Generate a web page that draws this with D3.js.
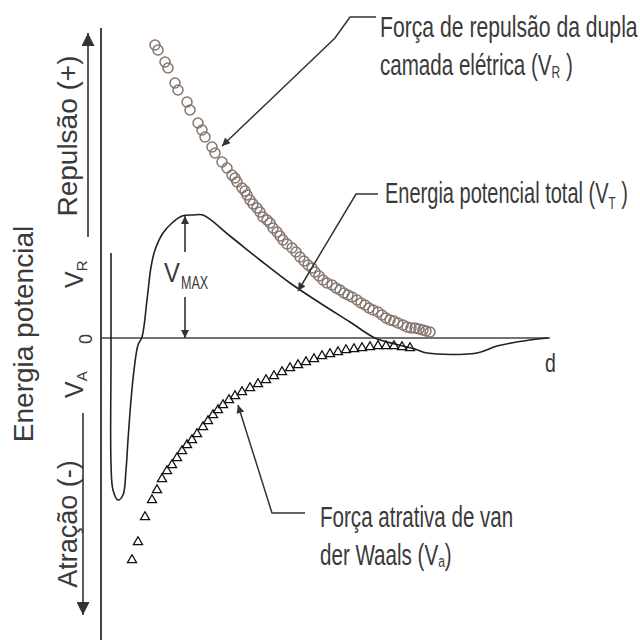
<!DOCTYPE html>
<html>
<head>
<meta charset="utf-8">
<script src="https://cdn.jsdelivr.net/npm/d3@7"></script>
<style>
  body { margin: 0; background: #fff; }
  svg text { font-family: "Liberation Sans", Arial, sans-serif; fill: #3a3a3a; }
</style>
</head>
<body>
<div id="chart"></div>
<script>
// d (distance) and V (energy), arbitrary units
const repulsao = [[5.4,29.3],[5.7,28.8],[6.4,27.6],[6.7,27.0],[7.4,25.5],[7.7,24.8],[8.6,23.6],[8.9,22.8],
  [9.7,21.5],[10.1,20.8],[10.4,20.1],[11.1,19.1],[11.4,18.5],[12.1,17.6],[12.6,17.0],[13.1,16.3],[13.4,16.0],
  [13.6,15.6],[14.1,15.0],[14.4,14.7],[14.6,14.3],[14.9,13.8],[15.2,13.4],[15.6,13.0],[15.9,12.6],[16.2,12.1],
  [16.6,11.8],[16.9,11.5],[17.2,11.0],[17.6,10.6],[17.9,10.2],[18.2,9.8],[18.6,9.4],[19.1,9.0],[19.5,8.6],
  [19.9,8.1],[20.3,7.7],[20.7,7.3],[21.1,7.0],[21.4,6.6],[21.8,6.2],[22.2,5.8],[22.6,5.5],[23.1,5.3],[23.5,5.0],
  [23.9,4.8],[24.3,4.5],[24.7,4.3],[25.1,4.1],[25.6,3.8],[26.0,3.5],[26.4,3.3],[26.8,3.0],[27.2,2.8],[27.7,2.6],
  [28.1,2.3],[28.5,2.0],[28.9,1.8],[29.3,1.7],[29.7,1.5],[30.2,1.3],[30.6,1.1],[31.0,1.0],[31.4,1.0],[31.8,0.9],
  [32.2,0.8],[32.5,0.7],[32.9,0.6]];

const atracao = [[3.1,-22.2],[3.7,-20.4],[4.4,-17.9],[5.1,-16.2],[5.6,-15.2],[6.1,-14.1],[6.6,-13.3],[7.1,-12.7],
  [7.6,-12.0],[8.1,-11.3],[8.6,-10.7],[9.1,-10.2],[9.6,-9.6],[10.2,-8.9],[10.7,-8.3],[11.2,-7.7],[11.7,-7.2],
  [12.2,-6.7],[12.8,-6.2],[13.4,-5.8],[14.1,-5.4],[14.9,-5.0],[15.7,-4.6],[16.5,-4.2],[17.3,-3.8],[18.1,-3.4],
  [18.9,-3.0],[19.7,-2.7],[20.5,-2.4],[21.3,-2.1],[22.1,-1.8],[22.9,-1.6],[23.7,-1.4],[24.5,-1.2],[25.3,-1.1],
  [26.1,-1.0],[26.9,-0.9],[27.7,-0.8],[28.5,-0.8],[29.3,-0.8],[30.1,-0.9],[30.9,-1.0]];

const total = [[1.0,8.5],[1.0,-2.0],[1.0,-12.5],[1.2,-15.2],[1.7,-16.2],[2.2,-15.7],[2.5,-13.2],[2.7,-10.2],
  [3.0,-6.2],[3.3,-3.2],[3.7,-0.7],[4.1,0.1],[4.6,3.8],[5.0,7.1],[5.4,8.8],[6.2,10.5],[7.1,11.5],[8.1,12.2],
  [9.2,12.3],[10.2,12.3],[12.9,10.2],[15.9,7.8],[18.9,5.5],[21.9,3.5],[24.9,1.6],[27.4,0.0],[29.4,-0.6],[31.4,-1.1],
  [32.6,-1.5],[37.6,-1.5],[39.6,-0.8],[42.9,-0.2],[44.7,0.0]];

const vMax = 12.2;
const vMaxD = 8.4;

const width = 640, height = 643;

const svg = d3.select("#chart")
  .append("svg")
    .attr("width", width)
    .attr("height", height);

const x = d3.scaleLinear().domain([0, 45]).range([101, 551]);
const y = d3.scaleLinear().domain([-30.2, 31]).range([640, 28]);

// arrowheads
const defs = svg.append("defs");
function marker(id, w, h) {
  defs.append("marker")
      .attr("id", id)
      .attr("viewBox", "0 0 10 10")
      .attr("refX", 10).attr("refY", 5)
      .attr("markerWidth", w).attr("markerHeight", h)
      .attr("markerUnits", "userSpaceOnUse")
      .attr("orient", "auto-start-reverse")
    .append("path")
      .attr("d", "M0,0L10,5L0,10Z")
      .attr("fill", "#333");
}
marker("tip", 11, 8);
marker("big", 17, 13);

// axes
svg.append("line")
    .attr("x1", x(0)).attr("x2", x(0))
    .attr("y1", y(31)).attr("y2", y(-30.2))
    .attr("stroke", "#444").attr("stroke-width", 2);
svg.append("line")
    .attr("x1", x(0)).attr("x2", x(44.9))
    .attr("y1", y(0)).attr("y2", y(0))
    .attr("stroke", "#444").attr("stroke-width", 1.6);

// side arrows
svg.append("line")
    .attr("x1", 88).attr("x2", 88).attr("y1", 237).attr("y2", 33)
    .attr("stroke", "#333").attr("stroke-width", 1.6)
    .attr("marker-end", "url(#big)");
svg.append("line")
    .attr("x1", 83).attr("x2", 83).attr("y1", 413).attr("y2", 615)
    .attr("stroke", "#333").attr("stroke-width", 1.6)
    .attr("marker-end", "url(#big)");

// total energy curve
svg.append("path")
    .datum(total)
    .attr("fill", "none")
    .attr("stroke", "#222")
    .attr("stroke-width", 1.6)
    .attr("d", d3.line()
        .x(d => x(d[0]))
        .y(d => y(d[1]))
        .curve(d3.curveCatmullRom.alpha(0.5)));

// repulsion points
svg.selectAll(".rep")
  .data(repulsao)
  .enter()
  .append("circle")
    .attr("class", "rep")
    .attr("cx", d => x(d[0]))
    .attr("cy", d => y(d[1]))
    .attr("r", 5)
    .attr("fill", "none")
    .attr("stroke", "#86766e")
    .attr("stroke-width", 1.5);

// attraction points
svg.selectAll(".atr")
  .data(atracao)
  .enter()
  .append("path")
    .attr("class", "atr")
    .attr("transform", d => `translate(${x(d[0])},${y(d[1])})`)
    .attr("d", d3.symbol().type(d3.symbolTriangle).size(36))
    .attr("fill", "none")
    .attr("stroke", "#111")
    .attr("stroke-width", 1.3);

// V max double arrow
svg.append("line")
    .attr("x1", x(vMaxD)).attr("x2", x(vMaxD))
    .attr("y1", 252).attr("y2", y(vMax))
    .attr("stroke", "#333").attr("stroke-width", 1.6)
    .attr("marker-end", "url(#tip)");
svg.append("line")
    .attr("x1", x(vMaxD)).attr("x2", x(vMaxD))
    .attr("y1", 297).attr("y2", y(0))
    .attr("stroke", "#333").attr("stroke-width", 1.6)
    .attr("marker-end", "url(#tip)");

// leader lines, starting at the arrow tip
function leader(points) {
  svg.append("path")
      .attr("d", d3.line()(points))
      .attr("fill", "none")
      .attr("stroke", "#333")
      .attr("stroke-width", 1.5)
      .attr("marker-start", "url(#tip)");
}
leader([[x(12.1), y(19.2)], [335, 38], [350, 17], [376, 17]]);
leader([[x(19.7), y(4.7)], [356, 194], [378, 194]]);
leader([[x(13.7), y(-6.7)], [272, 513], [305, 513]]);

// horizontal labels (narrow face)
function label(px, py, parts, sx) {
  const t = svg.append("text")
      .attr("transform", `translate(${px},${py}) scale(${sx},1)`);
  parts.forEach(p => {
    t.append("tspan")
        .attr("font-size", p[1])
        .attr("dy", p[2] || 0)
        .text(p[0]);
  });
}
label(380, 37, [["Força de repulsão da dupla", 29]], 0.73);
label(380, 75, [["camada elétrica (V", 29], ["R", 17, 3], [" )", 29, -3]], 0.71);
label(385, 203, [["Energia potencial total (V", 29], ["T", 17, 6], [" )", 29, -6]], 0.69);
label(320, 527, [["Força atrativa de van", 29]], 0.71);
label(320, 565, [["der Waals (V", 29], ["a", 17, 2], [")", 29, -2]], 0.71);
label(545, 372, [["d", 25]], 0.78);
label(164, 282, [["V", 28]], 0.85);
label(181, 289, [["MAX", 18]], 0.7);

// rotated labels
function vlabel(px, py, parts, anchor) {
  const t = svg.append("text")
      .attr("transform", `translate(${px},${py}) rotate(-90)`)
      .attr("text-anchor", anchor);
  parts.forEach(p => {
    t.append("tspan")
        .attr("font-size", p[1])
        .attr("dy", p[2] || 0)
        .text(p[0]);
  });
}
vlabel(77, 136, [["Repulsão (+)", 28]], "middle");
vlabel(33, 334, [["Energia potencial", 28]], "middle");
vlabel(77, 524, [["Atração (-)", 27]], "middle");
vlabel(83, 288, [["V", 25], ["R", 15, 4]], "start");
vlabel(83, 398, [["V", 25], ["A", 15, 4]], "start");
vlabel(92, 339, [["0", 18]], "middle");
</script>
</body>
</html>
